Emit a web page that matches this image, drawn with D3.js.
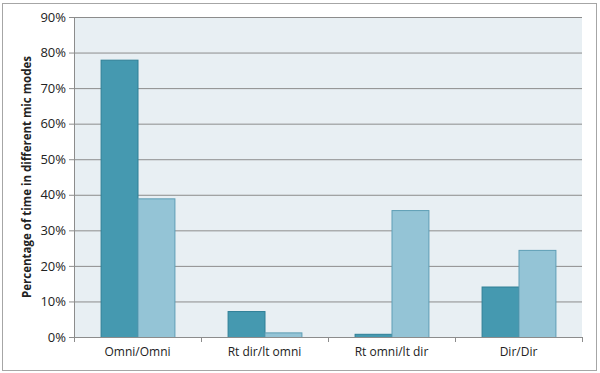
<!DOCTYPE html>
<html>
<head>
<meta charset="utf-8">
<script src="https://cdn.jsdelivr.net/npm/d3@7"></script>
<style>
  body { margin: 0; background: #fff; }
  text { font-family: "Open Sans", "Liberation Sans", sans-serif; }
</style>
</head>
<body>
<div id="chart"></div>
<script>
// categories and series values (fractions)
const categories = ["Omni/Omni", "Rt dir/lt omni", "Rt omni/lt dir", "Dir/Dir"]
const seriesA = [0.78, 0.073, 0.009, 0.142]
const seriesB = [0.39, 0.013, 0.357, 0.245]
const yTicks = [0, 0.1, 0.2, 0.3, 0.4, 0.5, 0.6, 0.7, 0.8, 0.9]

const W = 600, H = 373
const margin = { top: 17, right: 18, bottom: 36, left: 74 }
const width = W - margin.left - margin.right
const height = H - margin.top - margin.bottom

const svg = d3.select("#chart").append("svg")
  .attr("width", W)
  .attr("height", H)

// outer frame
svg.append("rect")
  .attr("x", 2.5).attr("y", 3.5)
  .attr("width", 594).attr("height", 367)
  .attr("fill", "white")
  .attr("stroke", "#a6a6a6")

const g = svg.append("g")
  .attr("transform", `translate(${margin.left},${margin.top})`)

const x = d3.scaleBand().domain(categories).range([0, width])
const inner = d3.scaleBand().domain(["a", "b"])
  .range([0, x.bandwidth()]).paddingOuter(0.72).paddingInner(0)
const y = d3.scaleLinear().domain([0, 0.9]).range([height, 0])

// plot background
g.append("rect")
  .attr("width", width).attr("height", height)
  .attr("fill", "#e8eff3")

// gridlines
g.selectAll(".grid")
  .data(yTicks.slice(1))
  .enter().append("line")
  .attr("x1", 0).attr("x2", width)
  .attr("y1", d => y(d) + 0.5).attr("y2", d => y(d) + 0.5)
  .attr("stroke", "#8c8c8c")

// y axis
const yAxis = d3.axisLeft(y)
  .tickValues(yTicks)
  .tickFormat(d3.format(".0%"))
  .tickSize(5)
  .tickPadding(3)
const ya = g.append("g").call(yAxis)
ya.select(".domain").attr("stroke", "#8c8c8c")
ya.selectAll(".tick line").attr("stroke", "#8c8c8c")
ya.selectAll("text").style("font-size", "13px").attr("fill", "#222")

// bars
const rows = categories.map((c, i) => ({ cat: c, a: seriesA[i], b: seriesB[i] }))
const grp = g.selectAll(".cat")
  .data(rows)
  .enter().append("g")
  .attr("transform", d => `translate(${x(d.cat)},0)`)

grp.append("rect")
  .attr("x", inner("a") + 0.5)
  .attr("y", d => y(d.a) + 0.5)
  .attr("width", inner.bandwidth())
  .attr("height", d => height - y(d.a))
  .attr("fill", "#4599b0")
  .attr("stroke", "#2f7f96")

grp.append("rect")
  .attr("x", inner("b") + 0.5)
  .attr("y", d => y(d.b) + 0.5)
  .attr("width", inner.bandwidth())
  .attr("height", d => height - y(d.b))
  .attr("fill", "#94c4d6")
  .attr("stroke", "#5e9eb5")

// x axis
const xAxis = d3.axisBottom(x).tickSize(0).tickPadding(10)
const xa = g.append("g")
  .attr("transform", `translate(0,${height})`)
  .call(xAxis)
xa.select(".domain").attr("stroke", "#8c8c8c")
xa.selectAll("text").style("font-size", "12px").attr("fill", "#222")

// category boundary ticks
g.selectAll(".xtick")
  .data(d3.range(categories.length + 1))
  .enter().append("line")
  .attr("x1", i => i * x.step() + 0.5).attr("x2", i => i * x.step() + 0.5)
  .attr("y1", height).attr("y2", height + 5)
  .attr("stroke", "#8c8c8c")

// y label
svg.append("text")
  .attr("transform", "rotate(-90)")
  .attr("x", -(margin.top + height / 2))
  .attr("y", 31)
  .attr("text-anchor", "middle")
  .style("font-size", "11.5px")
  .style("font-weight", "bold")
  .attr("fill", "#222")
  .text("Percentage of time in different mic modes")
</script>
</body>
</html>
